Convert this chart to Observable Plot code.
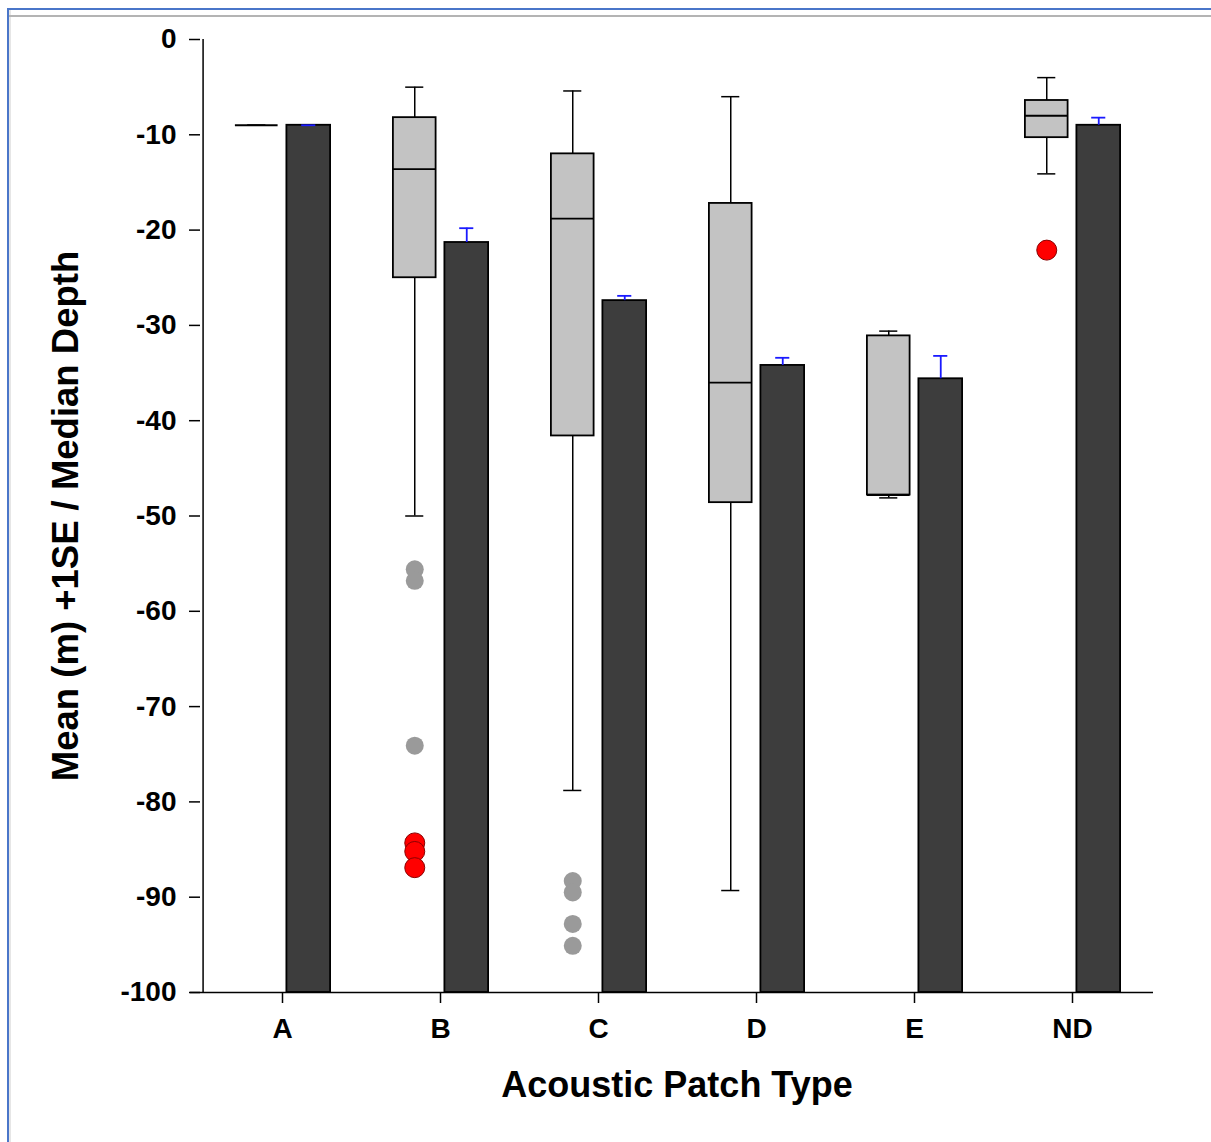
<!DOCTYPE html>
<html><head><meta charset="utf-8">
<script src="https://cdn.jsdelivr.net/npm/d3@7"></script>
<script src="https://cdn.jsdelivr.net/npm/@observablehq/plot@0.6"></script>
<style>
html,body{margin:0;padding:0;background:#fff;}
#wrap{position:relative;width:1211px;height:1142px;overflow:hidden;background:#fff;}
#chart{position:absolute;left:0;top:0;}
.bt{position:absolute;left:7px;top:8px;width:1204px;height:2px;background:#4a76c9;}
.bl{position:absolute;left:7px;top:8px;width:2px;height:1134px;background:#4a76c9;}
.gl{position:absolute;left:9px;top:10px;width:2px;height:1132px;background:#e6e6e6;}
.gt{position:absolute;left:9px;top:15px;width:1202px;height:2px;background:#b4b4b4;}
</style></head><body>
<div id="wrap"><div id="chart"></div><div class="bt"></div><div class="bl"></div><div class="gl"></div><div class="gt"></div></div>
<script>
// ---- data ----
const categories = ["A", "B", "C", "D", "E", "ND"];
const whiskerLow  = [-9, -50.0, -78.8, -89.3, -48.1, -14.1];
const quartile1   = [-9, -25.0, -41.6, -48.6, -47.8, -10.3];
const medians     = [-9, -13.6, -18.8, -36.0, -47.8, -8.0];
const quartile3   = [-9, -8.2, -12.0, -17.2, -31.1, -6.4];
const whiskerHigh = [-9, -5.0, -5.4, -6.0, -30.6, -4.0];
const meanDepth   = [-9.0, -21.3, -27.4, -34.2, -35.6, -9.0];
const standardError = [0, 1.5, 0.5, 0.8, 2.4, 0.8];
const grayOutlierCategory = ["B", "B", "B", "C", "C", "C", "C"];
const grayOutlierDepth    = [-55.6, -56.8, -74.1, -88.3, -89.5, -92.8, -95.1];
const redOutlierCategory  = ["B", "B", "B", "ND"];
const redOutlierDepth     = [-84.3, -85.2, -86.9, -22.1];
const yTicks = [0, -10, -20, -30, -40, -50, -60, -70, -80, -90, -100];
const yDomain = [-100, 0];
const xTitle = "Acoustic Patch Type";
const yTitle = "Mean (m) +1SE / Median Depth";

// ---- tables built from the arrays ----
const boxes = categories.map((c, i) => ({
  cat: c, low: whiskerLow[i], q1: quartile1[i], med: medians[i], q3: quartile3[i], high: whiskerHigh[i]
}));
const means = categories.map((c, i) => ({
  cat: c, mean: meanDepth[i], top: meanDepth[i] + standardError[i]
}));
const grayOut = grayOutlierCategory.map((c, i) => ({cat: c, v: grayOutlierDepth[i]}));
const redOut = redOutlierCategory.map((c, i) => ({cat: c, v: redOutlierDepth[i]}));

const W = 1211, H = 1142, mL = 200, mR = 58, mT = 39, mB = 150;
const halfBand = (W - mL - mR) / categories.length / 2;
const boxL = 31.9, boxR = 83.4, barL = 83.4, barR = 30.9;
const boxDx = -25.75, barDx = 26.25;

const plot = Plot.plot({
  width: W, height: H,
  marginLeft: mL, marginRight: mR, marginTop: mT, marginBottom: mB,
  style: {fontFamily: "'Liberation Sans', Arial, sans-serif", fontWeight: "bold", background: "transparent", color: "#000", overflow: "visible"},
  x: {type: "band", domain: categories, padding: 0},
  y: {domain: yDomain},
  marks: [
    // box plots
    Plot.ruleX(boxes, {x: "cat", y1: "low", y2: "high", dx: boxDx, stroke: "#000", strokeWidth: 1.5}),
    Plot.tickY(boxes, {x: "cat", y: "low", insetLeft: 44.2, insetRight: 95.7, stroke: "#000", strokeWidth: 1.5}),
    Plot.tickY(boxes, {x: "cat", y: "high", insetLeft: 44.2, insetRight: 95.7, stroke: "#000", strokeWidth: 1.5}),
    Plot.barY(boxes, {x: "cat", y1: "q1", y2: "q3", insetLeft: boxL, insetRight: boxR, fill: "#c3c3c3", stroke: "#000", strokeWidth: 1.8}),
    Plot.tickY(boxes, {x: "cat", y: "med", insetLeft: boxL, insetRight: boxR, stroke: "#000", strokeWidth: 1.8}),
    // outliers
    Plot.dot(grayOut, {x: "cat", y: "v", dx: boxDx, r: 9, fill: "#9a9a9a", stroke: "none"}),
    Plot.dot(redOut, {x: "cat", y: "v", dx: boxDx, r: 10, fill: "#ff0000", stroke: "#8a0000", strokeWidth: 1}),
    // mean bars with +1SE
    Plot.barY(means, {x: "cat", y1: yDomain[0], y2: "mean", insetLeft: barL, insetRight: barR, fill: "#3d3d3d", stroke: "#000", strokeWidth: 1.8}),
    Plot.ruleX(means, {x: "cat", y1: "mean", y2: "top", dx: barDx, stroke: "#1a1aff", strokeWidth: 1.8}),
    Plot.tickY(means, {x: "cat", y: "top", insetLeft: 98.2, insetRight: 45.7, stroke: "#1a1aff", strokeWidth: 1.8}),
    // axes
    Plot.axisY({ticks: yTicks, tickFormat: d => String(d), tickSize: 11, tickPadding: 13, fontSize: 28, fontWeight: "bold", label: null, strokeWidth: 1.5}),
    Plot.axisX({tickSize: 11, tickPadding: 15, fontSize: 28, fontWeight: "bold", label: null, strokeWidth: 1.5}),
    Plot.ruleX([categories[0]], {x: d => d, dx: -halfBand, y1: yDomain[0], y2: yDomain[1], stroke: "#000", strokeWidth: 1.5}),
    Plot.ruleY([yDomain[0]], {insetLeft: -10, stroke: "#000", strokeWidth: 1.5}),
    // axis titles
    Plot.text([xTitle], {frameAnchor: "bottom", lineAnchor: "middle", textAnchor: "middle", dy: 93, fontSize: 36, fontWeight: "bold", fill: "#000"}),
    Plot.text([yTitle], {frameAnchor: "left", textAnchor: "middle", lineAnchor: "middle", rotate: -90, dx: -134, fontSize: 36.5, fontWeight: "bold", fill: "#000"})
  ]
});
document.getElementById("chart").appendChild(plot);
</script>
</body></html>
